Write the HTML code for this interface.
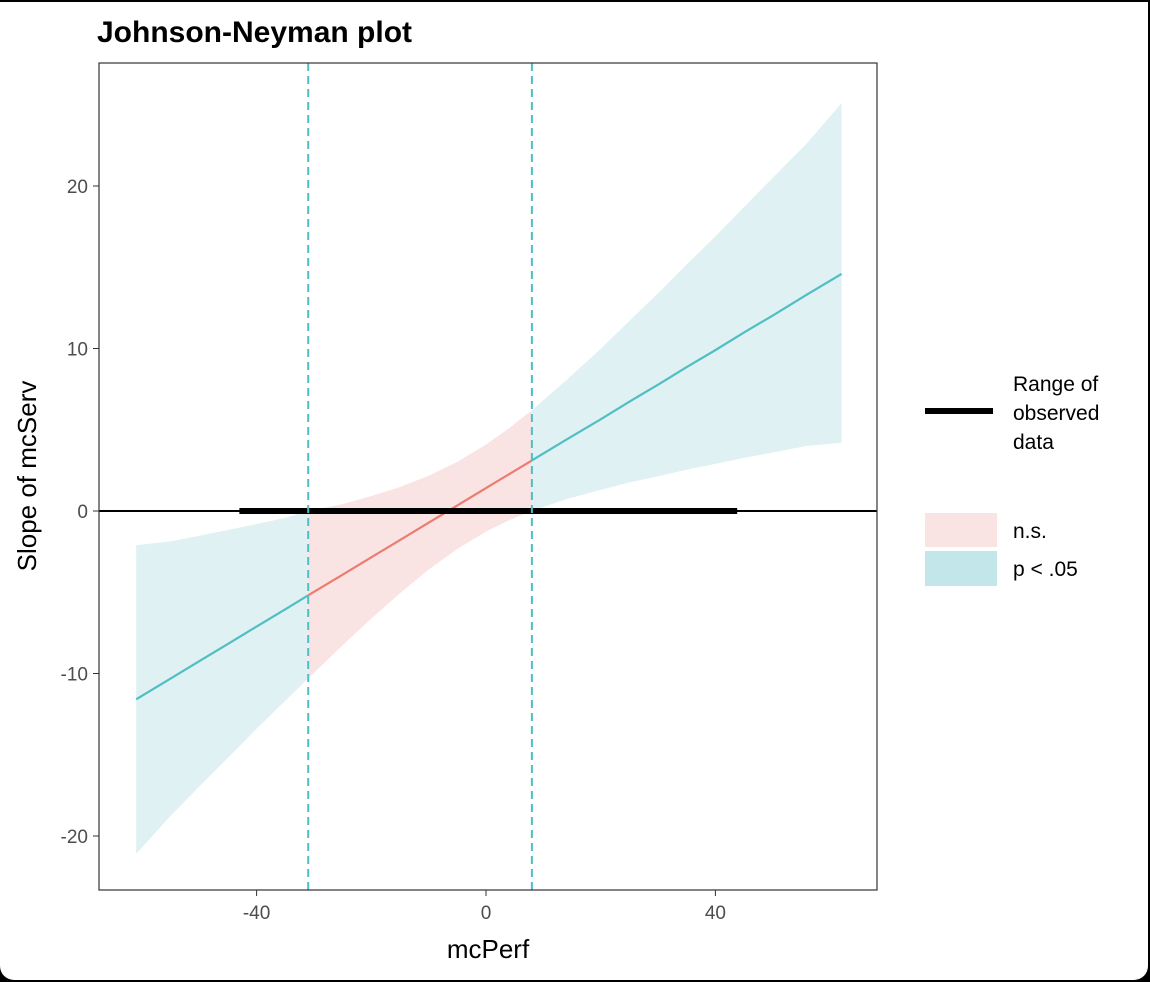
<!DOCTYPE html>
<html><head><meta charset="utf-8"><style>
body{margin:0;background:#000;width:1150px;height:982px;overflow:hidden}
#card{position:absolute;left:0;top:2px;width:1148px;height:978px;background:#fff;border-radius:0 0 14px 14px}
svg{position:absolute;left:0;top:0}
text{font-family:"Liberation Sans",Arial,sans-serif}
</style></head><body>
<div id="card"></div>
<svg id="chart" width="1150" height="982"></svg>
<script>
const xs=[-61,-55,-50,-45,-40,-35,-31,-25,-20,-15,-10,-5,0,4,8,14,20,25,30,35,40,45,50,56,62];
const slope=[-11.59,-10.31,-9.24,-8.18,-7.11,-6.05,-5.19,-3.92,-2.85,-1.79,-0.72,0.34,1.41,2.26,3.11,4.39,5.64,6.73,7.77,8.86,9.9,10.99,12.03,13.33,14.59];
const upper=[-2.1,-1.87,-1.52,-1.17,-0.8,-0.42,0,0.42,0.92,1.48,2.17,3.02,4.09,5.09,6.2,8.05,9.98,11.7,13.4,15.17,16.9,18.71,20.5,22.65,25.1];
const lower=[-21.1,-18.75,-16.96,-15.19,-13.4,-11.68,-10.3,-8.26,-6.62,-5.06,-3.61,-2.34,-1.27,-0.57,0,0.73,1.3,1.76,2.14,2.55,2.9,3.27,3.6,4.01,4.2];
const jn=[-31,8];
const observed=[-43,43.8];
const xTicks=[-40,0,40];
const yTicks=[-20,-10,0,10,20];
const X=v=>486+v*5.735, Y=v=>511-v*16.25;
const svg=document.getElementById('chart');
const NS='http://www.w3.org/2000/svg';
function mk(t,a,p){const e=document.createElementNS(NS,t);for(const k in a)e.setAttribute(k,a[k]);(p||svg).appendChild(e);return e;}
mk('rect',{x:99,y:63,width:778,height:827,fill:'#fff'});
function band(lo,hi,fill,name){const idx=xs.map((x,i)=>i).filter(i=>xs[i]>=lo&&xs[i]<=hi);
 let d=idx.map((i,k)=>(k?'L':'M')+X(xs[i])+','+Y(upper[i])).join('')+idx.slice().reverse().map(i=>'L'+X(xs[i])+','+Y(lower[i])).join('')+'Z';
 const e=mk('path',{d:d,fill:fill});}
function line(lo,hi,col,name){const idx=xs.map((x,i)=>i).filter(i=>xs[i]>=lo&&xs[i]<=hi);
 const e=mk('path',{d:idx.map((i,k)=>(k?'L':'M')+X(xs[i])+','+Y(slope[i])).join(''),stroke:col,'stroke-width':2.2,fill:'none'});
 }
band(-1e9,jn[0],'#DFF1F2','band-sig-left');band(jn[0],jn[1],'#FAE4E3','band-ns');band(jn[1],1e9,'#DFF1F2','band-sig-right');
line(-1e9,jn[0],'#50BEC2','slope-sig-left');line(jn[0],jn[1],'#EE7B6F','slope-ns');line(jn[1],1e9,'#50BEC2','slope-sig-right');
let z=mk('line',{x1:99,x2:877,y1:Y(0),y2:Y(0),stroke:'#000','stroke-width':2});
let ob=mk('line',{x1:X(observed[0]),x2:X(observed[1]),y1:Y(0),y2:Y(0),stroke:'#000','stroke-width':6});
jn.forEach(v=>{const e=mk('line',{x1:X(v),x2:X(v),y1:63,y2:890,stroke:'#4DBFC4','stroke-width':2,'stroke-dasharray':'8,5'});});
mk('rect',{x:99,y:63,width:778,height:827,fill:'none',stroke:'#333','stroke-width':1.2});
xTicks.forEach(v=>{mk('line',{x1:X(v),x2:X(v),y1:890,y2:896,stroke:'#333'});const t=mk('text',{x:X(v),y:919,'text-anchor':'middle','font-size':19,fill:'#4d4d4d'});t.textContent=v;});
yTicks.forEach(v=>{mk('line',{x1:93,x2:99,y1:Y(v),y2:Y(v),stroke:'#333'});const t=mk('text',{x:88,y:Y(v)+7,'text-anchor':'end','font-size':19,fill:'#4d4d4d'});t.textContent=v;});
</script>
<svg width="1150" height="982" style="pointer-events:none">
<text x="97" y="42" font-size="30" font-weight="bold" fill="#000">Johnson-Neyman plot</text>
<text x="488" y="958" font-size="26" text-anchor="middle">mcPerf</text>
<text transform="translate(36,476) rotate(-90)" font-size="26" text-anchor="middle">Slope of mcServ</text>
<g>
<line x1="925" x2="993" y1="411" y2="411" stroke="#000" stroke-width="6"/>
<text x="1013" y="391" font-size="21">Range of</text>
<text x="1013" y="420" font-size="21">observed</text>
<text x="1013" y="449" font-size="21">data</text>
<rect x="925" y="513" width="72" height="34" fill="#FAE4E3"/>
<text x="1013" y="538" font-size="21">n.s.</text>
<rect x="925" y="551" width="72" height="35" fill="#C2E6E9"/>
<text x="1013" y="576" font-size="21">p &lt; .05</text>
</g>
</svg>
</body></html>
